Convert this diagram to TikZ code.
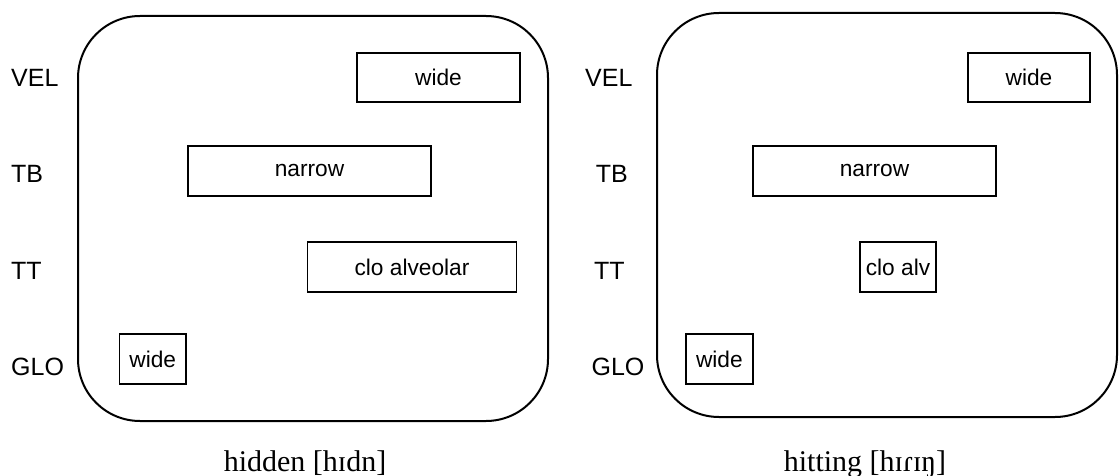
\documentclass[tikz,border=0pt]{standalone}
\usepackage{fontspec}
\setmainfont{Liberation Sans}
\newfontfamily\capfont{Liberation Serif}
\begin{document}
\begin{tikzpicture}[x=1pt,y=-1pt,
  panel/.style={draw, line width=2pt, rounded corners=62pt, inner sep=0pt},
  gesture/.style={draw, line width=1.3pt, inner sep=0pt, align=center,
    font=\fontsize{22.7}{27}\selectfont},
  tier/.style={anchor=west, inner sep=0pt, font=\fontsize{25}{30}\selectfont},
  caption/.style={anchor=base, inner sep=0pt, font=\capfont\fontsize{30}{36}\selectfont}]
\useasboundingbox (0,0) rectangle (1119,476);

% ---- hidden ----
\node[panel, minimum width=470pt, minimum height=405pt] (P1) at (313,218.5) {};
\node[tier] (vel1) at (11,77.8) {VEL};
\node[tier] (tb1)  at (11,174.2) {TB};
\node[tier] (tt1)  at (11,270.5) {TT};
\node[tier] (glo1) at (11,366.7) {GLO};
\node[gesture, minimum width=163pt, minimum height=49pt] (velg1) at (438.5,77.5) {wide};
\node[gesture, minimum width=243pt, minimum height=50pt] (tbg1) at (309.5,171) {narrow};
\node[gesture, minimum width=209pt, minimum height=50pt] (ttg1) at (412,267) {clo alveolar};
\node[gesture, minimum width=66.5pt, minimum height=50pt] (glog1) at (152.75,359) {wide};
\node[caption] (cap1) at (305,471) {hidden [hɪdn]};

% ---- hitting ----
\node[panel, minimum width=460pt, minimum height=404pt] (P2) at (887,215) {};
\node[tier] (vel2) at (585,77.8) {VEL};
\node[tier] (tb2)  at (595.7,174.2) {TB};
\node[tier] (tt2)  at (594,270.5) {TT};
\node[tier] (glo2) at (591.4,366.7) {GLO};
\node[gesture, minimum width=122pt, minimum height=49pt] (velg2) at (1029,77.5) {wide};
\node[gesture, minimum width=243pt, minimum height=50pt] (tbg2) at (874.5,171) {narrow};
\node[gesture, minimum width=76pt, minimum height=50pt] (ttg2) at (898,267) {clo alv};
\node[gesture, minimum width=67pt, minimum height=50pt] (glog2) at (719.4,359) {wide};
\node[caption] (cap2) at (865,471) {hitting [hɪɾɪŋ]};
\end{tikzpicture}
\end{document}
